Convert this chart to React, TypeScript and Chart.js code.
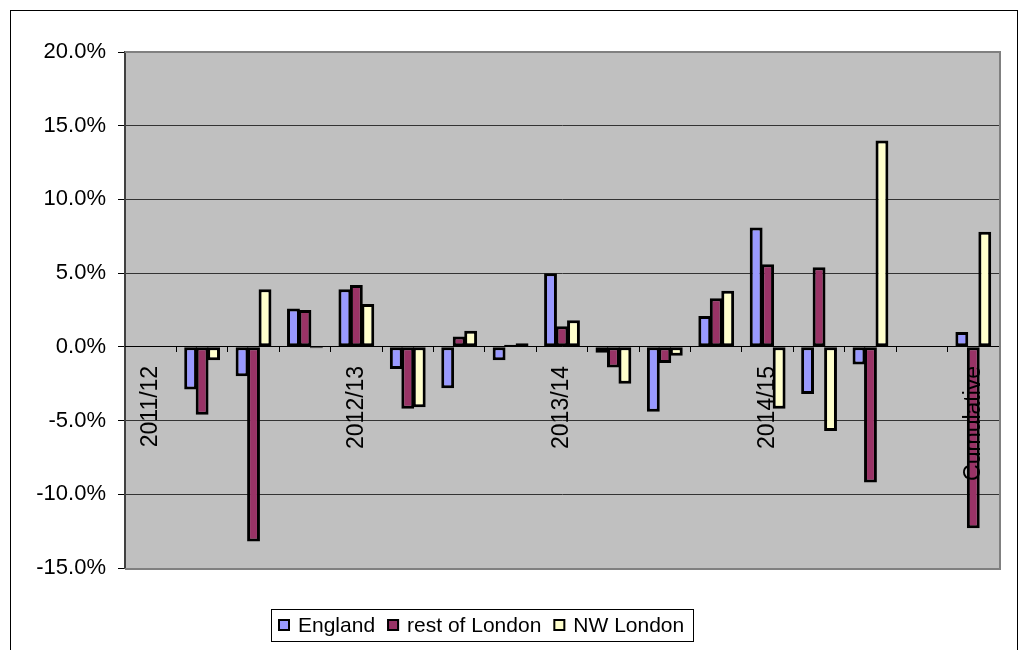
import { useEffect, useRef } from "react";
import { Chart, registerables } from "chart.js";

Chart.register(...registerables);

// Period labels on the category axis (blank slots are quarterly steps)
const categories = [
  "2011/12", "", "", "",
  "2012/13", "", "", "",
  "2013/14", "", "", "",
  "2014/15", "", "", "",
  "Cumulative",
];

// Percentage change per period
const england = [null, -2.9, -2.0, 2.6, 3.9, -1.5, -2.8, -0.9, 5.0, -0.4, -4.4, 2.1, 8.1, -3.2, -1.2, null, 1.0];
const restOfLondon = [null, -4.6, -13.2, 2.5, 4.2, -4.2, 0.7, 0.15, 1.4, -1.4, -1.1, 3.3, 5.6, 5.4, -9.2, null, -12.3];
const nwLondon = [null, -0.9, 3.9, -0.1, 2.9, -4.1, 1.1, 0.25, 1.8, -2.5, -0.6, 3.8, -4.2, -5.7, 14.0, null, 7.8];

const seriesNames = ["England", "rest of London", "NW London"];
const seriesColors = ["#9999FF", "#993366", "#FFFFCC"];

const yMin = -15;
const yMax = 20;
const yStep = 5;

const FONT_FAMILY = '"Liberation Sans", Arial, Helvetica, sans-serif';

// White page, outer frame and grey plot background
const frame = {
  id: "frame",
  beforeDraw(chart: any) {
    const { ctx, chartArea, width, height } = chart;
    ctx.save();
    ctx.fillStyle = "#ffffff";
    ctx.fillRect(0, 0, width, height);
    ctx.strokeStyle = "#000000";
    ctx.lineWidth = 1;
    ctx.strokeRect(10.5, 10.5, 1007, 720);
    ctx.fillStyle = "#C0C0C0";
    ctx.fillRect(chartArea.left, chartArea.top, chartArea.right - chartArea.left, chartArea.bottom - chartArea.top);
    ctx.restore();
  },
  afterDraw(chart: any) {
    const { ctx, chartArea } = chart;
    ctx.save();
    ctx.strokeStyle = "#808080";
    ctx.lineWidth = 2;
    ctx.beginPath();
    ctx.moveTo(chartArea.left, chartArea.top);
    ctx.lineTo(chartArea.right + 1, chartArea.top);
    ctx.lineTo(chartArea.right + 1, chartArea.bottom + 1);
    ctx.lineTo(chartArea.left, chartArea.bottom + 1);
    ctx.stroke();
    ctx.restore();
  },
};

// Boxed legend below the plot
const boxedLegend = {
  id: "boxedLegend",
  afterDraw(chart: any) {
    const { ctx } = chart;
    ctx.save();
    ctx.font = `21px ${FONT_FAMILY}`;
    const sq = 12;
    const gapText = 8;
    const gapItem = 12;
    const padL = 7;
    const padR = 9;
    const items = chart.data.datasets.map((ds: any) => ({
      label: ds.label as string,
      color: ds.backgroundColor as string,
      w: ctx.measureText(ds.label).width,
    }));
    let total = padL + padR;
    items.forEach((it: any, i: number) => {
      total += sq + gapText + it.w + (i > 0 ? gapItem : 0);
    });
    const cx = 482;
    const top = 609;
    const h = 32;
    const left = Math.round(cx - total / 2);
    ctx.strokeStyle = "#000";
    ctx.lineWidth = 1;
    ctx.strokeRect(left + 0.5, top + 0.5, Math.round(total), h);
    const midY = top + h / 2;
    let x = left + padL;
    items.forEach((it: any) => {
      ctx.fillStyle = it.color;
      ctx.fillRect(x, midY - sq / 2, sq, sq);
      ctx.lineWidth = 2;
      ctx.strokeStyle = "#000";
      ctx.strokeRect(x + 1, midY - sq / 2 + 1, sq - 2, sq - 2);
      x += sq + gapText;
      ctx.fillStyle = "#000";
      ctx.textBaseline = "middle";
      ctx.textAlign = "left";
      ctx.fillText(it.label, x, midY + 1);
      x += it.w + gapItem;
    });
    ctx.restore();
  },
};

export default function App() {
  const canvasRef = useRef<HTMLCanvasElement | null>(null);

  useEffect(() => {
    const canvas = canvasRef.current;
    if (!canvas) return;
    const series = [england, restOfLondon, nwLondon];
    const chart = new Chart(canvas, {
      type: "bar",
      data: {
        labels: categories,
        datasets: series.map((values, i) => ({
          label: seriesNames[i],
          data: values,
          backgroundColor: seriesColors[i],
          borderColor: "#000000",
          borderWidth: 3,
          borderSkipped: false,
          categoryPercentage: 0.67,
          barPercentage: 1.12,
        })),
      },
      options: {
        responsive: false,
        animation: false,
        devicePixelRatio: 1,
        layout: { padding: { top: 52, bottom: 82, right: 29, left: 0 } },
        plugins: {
          legend: { display: false },
          tooltip: { enabled: false },
        },
        scales: {
          x: {
            position: { y: 0 } as any,
            grid: {
              drawOnChartArea: false,
              drawTicks: true,
              tickLength: 5,
              tickColor: "#000000",
              offset: true,
            },
            border: { display: true, color: "#000000", width: 1, z: 1 } as any,
            ticks: {
              z: 1,
              autoSkip: false,
              minRotation: 90,
              maxRotation: 90,
              padding: 14,
              color: "#000000",
              font: { family: FONT_FAMILY, size: 23 },
            },
          },
          y: {
            min: yMin,
            max: yMax,
            afterFit(scale: any) {
              scale.width = 125;
            },
            grid: {
              color: "#333333",
              lineWidth: 1,
              tickLength: 7,
              tickColor: "#000000",
            },
            border: { display: true, color: "#404040", width: 2 },
            ticks: {
              stepSize: yStep,
              padding: 12,
              color: "#000000",
              font: { family: FONT_FAMILY, size: 22 },
              callback: (v: any) => `${Number(v).toFixed(1)}%`,
            },
          },
        },
      },
      plugins: [frame, boxedLegend],
    });
    return () => chart.destroy();
  }, []);

  return (
    <div style={{ position: "fixed", left: 0, top: 0, width: 1028, height: 650, background: "#fff" }}>
      <canvas ref={canvasRef} width={1028} height={650} style={{ display: "block" }} />
    </div>
  );
}
